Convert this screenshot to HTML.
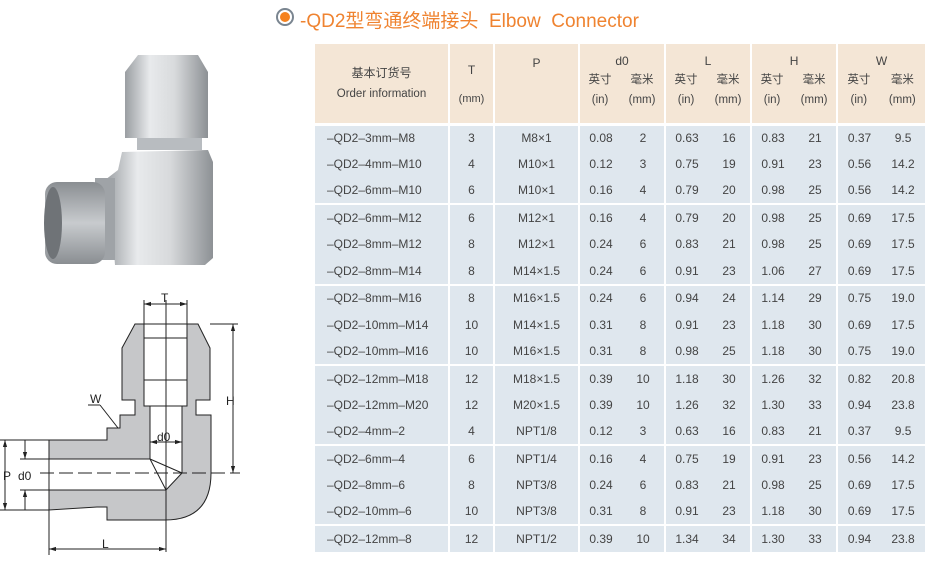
<!DOCTYPE html>
<html><head><meta charset="utf-8"><style>
*{margin:0;padding:0;box-sizing:border-box}
body{width:927px;height:563px;background:#fff;position:relative;overflow:hidden;font-family:"Liberation Sans","Noto Sans CJK SC",sans-serif;color:#444}
#title{position:absolute;left:276px;top:6px;font-size:19px;color:#ef8330;white-space:nowrap;font-family:"Liberation Sans","Noto Sans CJK SC",sans-serif}
#dot{position:absolute;left:276px;top:8px;width:18px;height:18px;border-radius:50%;border:2px solid #7a8590;background:#fff}
#dot:after{content:"";position:absolute;left:2px;top:2px;width:10px;height:10px;border-radius:50%;background:#f5821f}
table{position:absolute;left:315px;top:44px;width:610px;border-collapse:collapse;table-layout:fixed;font-size:12px}
td{text-align:center;height:26.75px;background:#dfe7ee;padding:0;white-space:nowrap}
td.b{border-right:2px solid #fff}
tr.g td{border-bottom:2px solid #fff}
th{background:#f4e6d6;font-weight:normal;height:80px;vertical-align:top;border-right:2px solid #fff;border-bottom:3px solid #fff;font-size:12px;position:relative}
td.o{text-align:left;padding-left:12px}
.sub{position:absolute;top:26px;left:0;right:0;display:flex;justify-content:space-around;font-size:11.5px;line-height:20px}
</style></head><body>
<div id="dot"></div>
<div id="title"><span style="margin-left:24px">-QD2型弯通终端接头&nbsp; Elbow&nbsp; Connector</span></div>

<svg style="position:absolute;left:0;top:0" width="310" height="563">
<defs>
<linearGradient id="m" x1="0" x2="1"><stop offset="0" stop-color="#9a9ea2"/><stop offset=".3" stop-color="#e8eaec"/><stop offset=".6" stop-color="#d8dadc"/><stop offset="1" stop-color="#8d9195"/></linearGradient>
<linearGradient id="m2" x1="0" x2="0" y1="0" y2="1"><stop offset="0" stop-color="#8a8e92"/><stop offset=".5" stop-color="#c8cbce"/><stop offset="1" stop-color="#8a8e92"/></linearGradient>
<marker id="a" viewBox="0 0 10 10" refX="10" refY="5" markerWidth="7" markerHeight="7" orient="auto-start-reverse"><path d="M0,2 L10,5 L0,8 Z" fill="#222"/></marker>
</defs>
<!-- photo -->
<path d="M138,55 L198,55 L208,72 L208,138 L125,138 L125,72 Z" fill="url(#m)"/>
<rect x="137" y="138" width="65" height="12" fill="#b8bcc0"/>
<path d="M122,152 L208,150 L213,162 L213,258 L205,265 L115,265 L110,200 L105,180 L118,170 Z" fill="url(#m)"/>
<rect x="95" y="178" width="20" height="82" fill="#9fa3a7"/>
<rect x="45" y="182" width="60" height="82" rx="12" fill="url(#m2)"/>
<ellipse cx="53" cy="223" rx="9" ry="36" fill="#6f7377"/>
<!-- drawing -->
<g stroke="#222" stroke-width="1" fill="#c6c7c9">
<path d="M122,348 L135,324 L198,324 L210,348 L210,400 L196,400 L196,415 L211,415 L211,473 Q211,520 165,520 L107,520 L107,507 L97,507 L49,510 L49,440 L97,440 L107,440 L107,428 L120,428 L120,415 L135,415 L135,400 L122,400 Z"/>
</g>
<rect x="144" y="324" width="43" height="82" fill="#fff" stroke="#222"/>
<line x1="144" y1="338" x2="187" y2="338" stroke="#222"/>
<line x1="144" y1="380" x2="187" y2="380" stroke="#222"/>
<path d="M150,406 L182,406 L182,473 L166,490 L49,490 L49,459 L150,459 Z" fill="#fff" stroke="#222"/>
<path d="M150,459 L166,490 M150,459 L182,473" stroke="#222" fill="none"/>
<g stroke="#222" stroke-width="1">
<line x1="166" y1="300" x2="166" y2="552"/>
<line x1="40" y1="473" x2="240" y2="473" stroke-dasharray="14,5"/>
<line x1="144" y1="300" x2="144" y2="324"/><line x1="187" y1="300" x2="187" y2="324"/>
<line x1="144" y1="304" x2="187" y2="304" marker-start="url(#a)" marker-end="url(#a)"/>
<line x1="210" y1="324" x2="238" y2="324"/>
<line x1="233" y1="324" x2="233" y2="473" marker-start="url(#a)" marker-end="url(#a)"/>
<line x1="0" y1="440" x2="49" y2="440"/><line x1="0" y1="510" x2="49" y2="510"/>
<line x1="5" y1="440" x2="5" y2="510" marker-start="url(#a)" marker-end="url(#a)"/>
<line x1="20" y1="459" x2="49" y2="459"/><line x1="20" y1="490" x2="49" y2="490"/>
<line x1="25" y1="440" x2="25" y2="459" marker-end="url(#a)"/>
<line x1="25" y1="510" x2="25" y2="490" marker-end="url(#a)"/>
<line x1="49" y1="510" x2="49" y2="555"/>
<line x1="49" y1="549" x2="166" y2="549" marker-start="url(#a)" marker-end="url(#a)"/>
<line x1="150" y1="442" x2="182" y2="442" marker-start="url(#a)" marker-end="url(#a)"/>
<line x1="100" y1="405" x2="118" y2="428"/><line x1="88" y1="405" x2="100" y2="405"/>
</g>
<g font-size="12" fill="#222" font-family="Liberation Sans,sans-serif">
<text x="161" y="302">T</text><text x="226" y="405">H</text><text x="3" y="480">P</text>
<text x="18" y="480">d0</text><text x="102" y="548">L</text><text x="90" y="403">W</text>
<text x="157" y="441">d0</text>
</g>
</svg>

<table>
<colgroup><col style="width:134px"><col style="width:45px"><col style="width:85px"><col style="width:43px"><col style="width:43px"><col style="width:43px"><col style="width:43px"><col style="width:43px"><col style="width:43px"><col style="width:44px"><col style="width:44px"></colgroup>
<tr><th style="vertical-align:middle;line-height:20px">基本订货号<br><span style="font-size:11.5px">Order information</span></th>
<th style="padding-top:12px;line-height:28px">T<br><span style="font-size:11px">(mm)</span></th>
<th style="padding-top:12px">P</th>
<th colspan="2" style="padding-top:10px">d0<div class="sub"><span>英寸<br>(in)</span><span>毫米<br>(mm)</span></div></th>
<th colspan="2" style="padding-top:10px">L<div class="sub"><span>英寸<br>(in)</span><span>毫米<br>(mm)</span></div></th>
<th colspan="2" style="padding-top:10px">H<div class="sub"><span>英寸<br>(in)</span><span>毫米<br>(mm)</span></div></th>
<th colspan="2" style="padding-top:10px;border-right:none">W<div class="sub"><span>英寸<br>(in)</span><span>毫米<br>(mm)</span></div></th></tr>
<tr><td class="b o">–QD2–3mm–M8</td><td class="b">3</td><td class="b">M8×1</td><td>0.08</td><td class="b">2</td><td>0.63</td><td class="b">16</td><td>0.83</td><td class="b">21</td><td>0.37</td><td>9.5</td></tr>
<tr><td class="b o">–QD2–4mm–M10</td><td class="b">4</td><td class="b">M10×1</td><td>0.12</td><td class="b">3</td><td>0.75</td><td class="b">19</td><td>0.91</td><td class="b">23</td><td>0.56</td><td>14.2</td></tr>
<tr class="g"><td class="b o">–QD2–6mm–M10</td><td class="b">6</td><td class="b">M10×1</td><td>0.16</td><td class="b">4</td><td>0.79</td><td class="b">20</td><td>0.98</td><td class="b">25</td><td>0.56</td><td>14.2</td></tr>
<tr><td class="b o">–QD2–6mm–M12</td><td class="b">6</td><td class="b">M12×1</td><td>0.16</td><td class="b">4</td><td>0.79</td><td class="b">20</td><td>0.98</td><td class="b">25</td><td>0.69</td><td>17.5</td></tr>
<tr><td class="b o">–QD2–8mm–M12</td><td class="b">8</td><td class="b">M12×1</td><td>0.24</td><td class="b">6</td><td>0.83</td><td class="b">21</td><td>0.98</td><td class="b">25</td><td>0.69</td><td>17.5</td></tr>
<tr class="g"><td class="b o">–QD2–8mm–M14</td><td class="b">8</td><td class="b">M14×1.5</td><td>0.24</td><td class="b">6</td><td>0.91</td><td class="b">23</td><td>1.06</td><td class="b">27</td><td>0.69</td><td>17.5</td></tr>
<tr><td class="b o">–QD2–8mm–M16</td><td class="b">8</td><td class="b">M16×1.5</td><td>0.24</td><td class="b">6</td><td>0.94</td><td class="b">24</td><td>1.14</td><td class="b">29</td><td>0.75</td><td>19.0</td></tr>
<tr><td class="b o">–QD2–10mm–M14</td><td class="b">10</td><td class="b">M14×1.5</td><td>0.31</td><td class="b">8</td><td>0.91</td><td class="b">23</td><td>1.18</td><td class="b">30</td><td>0.69</td><td>17.5</td></tr>
<tr class="g"><td class="b o">–QD2–10mm–M16</td><td class="b">10</td><td class="b">M16×1.5</td><td>0.31</td><td class="b">8</td><td>0.98</td><td class="b">25</td><td>1.18</td><td class="b">30</td><td>0.75</td><td>19.0</td></tr>
<tr><td class="b o">–QD2–12mm–M18</td><td class="b">12</td><td class="b">M18×1.5</td><td>0.39</td><td class="b">10</td><td>1.18</td><td class="b">30</td><td>1.26</td><td class="b">32</td><td>0.82</td><td>20.8</td></tr>
<tr><td class="b o">–QD2–12mm–M20</td><td class="b">12</td><td class="b">M20×1.5</td><td>0.39</td><td class="b">10</td><td>1.26</td><td class="b">32</td><td>1.30</td><td class="b">33</td><td>0.94</td><td>23.8</td></tr>
<tr class="g"><td class="b o">–QD2–4mm–2</td><td class="b">4</td><td class="b">NPT1/8</td><td>0.12</td><td class="b">3</td><td>0.63</td><td class="b">16</td><td>0.83</td><td class="b">21</td><td>0.37</td><td>9.5</td></tr>
<tr><td class="b o">–QD2–6mm–4</td><td class="b">6</td><td class="b">NPT1/4</td><td>0.16</td><td class="b">4</td><td>0.75</td><td class="b">19</td><td>0.91</td><td class="b">23</td><td>0.56</td><td>14.2</td></tr>
<tr><td class="b o">–QD2–8mm–6</td><td class="b">8</td><td class="b">NPT3/8</td><td>0.24</td><td class="b">6</td><td>0.83</td><td class="b">21</td><td>0.98</td><td class="b">25</td><td>0.69</td><td>17.5</td></tr>
<tr class="g"><td class="b o">–QD2–10mm–6</td><td class="b">10</td><td class="b">NPT3/8</td><td>0.31</td><td class="b">8</td><td>0.91</td><td class="b">23</td><td>1.18</td><td class="b">30</td><td>0.69</td><td>17.5</td></tr>
<tr><td class="b o">–QD2–12mm–8</td><td class="b">12</td><td class="b">NPT1/2</td><td>0.39</td><td class="b">10</td><td>1.34</td><td class="b">34</td><td>1.30</td><td class="b">33</td><td>0.94</td><td>23.8</td></tr>
</table>
</body></html>
